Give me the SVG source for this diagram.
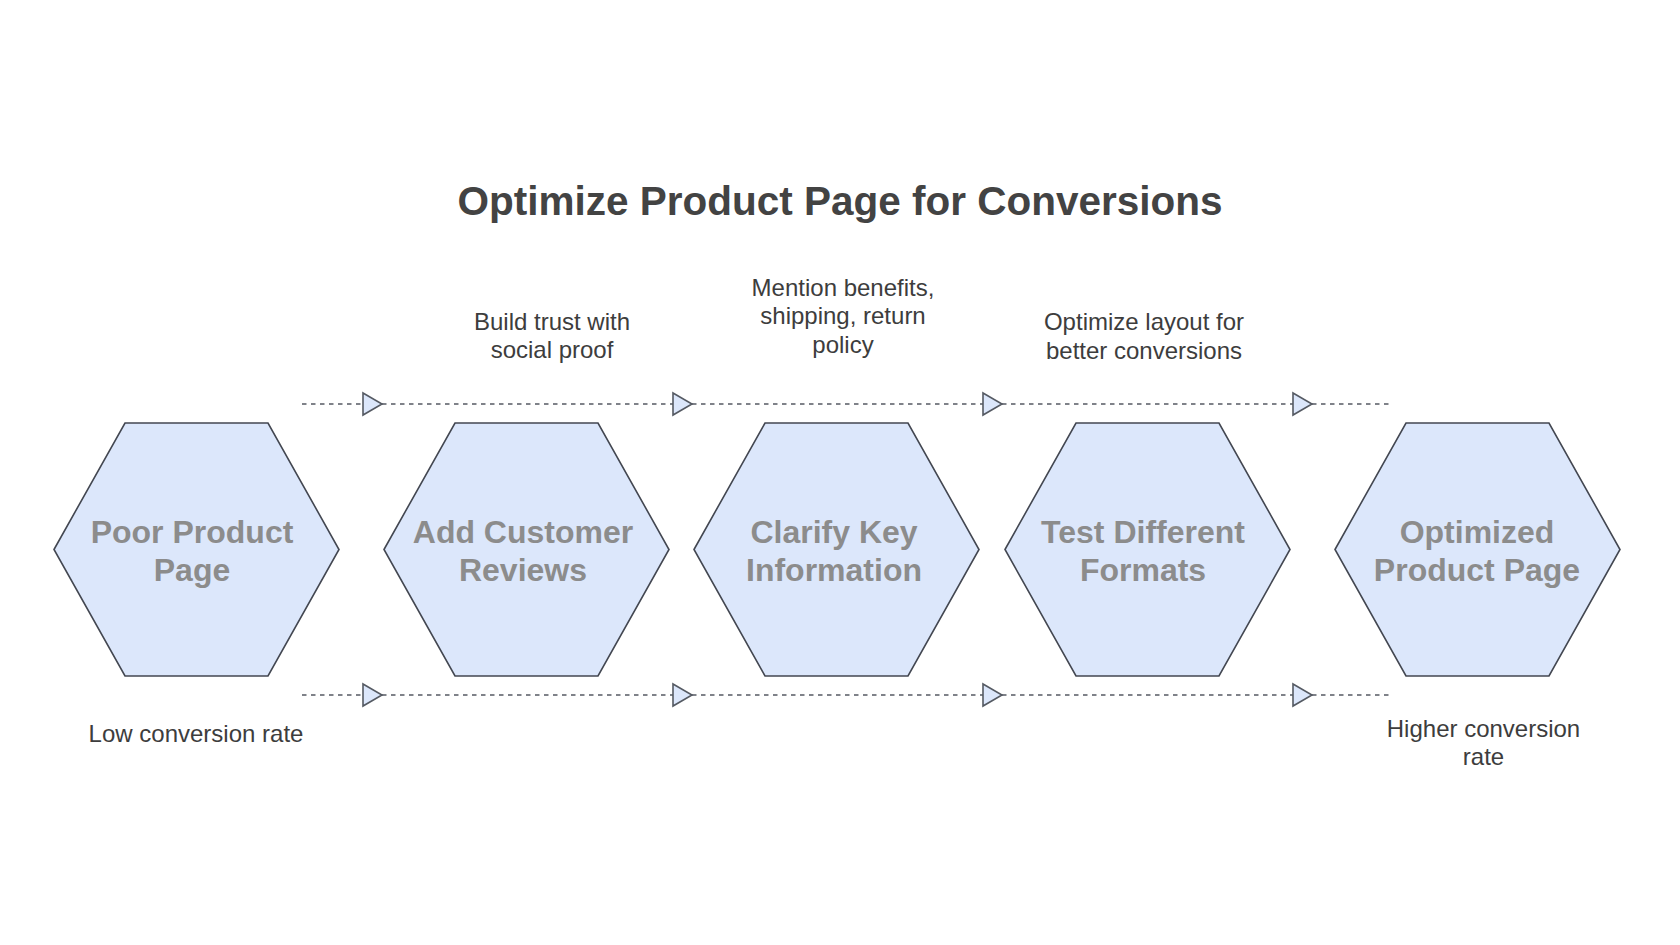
<svg xmlns="http://www.w3.org/2000/svg" width="1680" height="945" viewBox="0 0 1680 945">
<style>
.hex{fill:#dce7fb;stroke:#434751;stroke-width:1.6;}
.nl{font-family:"Liberation Sans",Arial,sans-serif;font-weight:bold;font-size:32px;fill:#8c8c8c;text-anchor:middle;}
.an{font-family:"Liberation Sans",Arial,sans-serif;font-size:24px;fill:#3d3d3d;text-anchor:middle;}
.title{font-family:"Liberation Sans",Arial,sans-serif;font-weight:bold;font-size:40.5px;fill:#434343;text-anchor:middle;}
.dl{fill:none;stroke:#555a63;stroke-width:1.6;stroke-dasharray:4.5 4.5;}
</style>
<defs>
<marker id="tri" markerUnits="userSpaceOnUse" viewBox="-2 -2 23 26" markerWidth="23" markerHeight="26" refX="19" refY="11" orient="auto" overflow="visible">
<path d="M0,0 L19,11 L0,22 Z" fill="#dce7fb" stroke="#555a63" stroke-width="1.6" stroke-linejoin="miter"/>
</marker>
</defs>
<rect width="1680" height="945" fill="#ffffff"/>
<text class="title" x="840" y="215">Optimize Product Page for Conversions</text>

<g id="connectors">
<path class="dl" d="M302,404 H382" marker-end="url(#tri)"/>
<path class="dl" d="M382,404 H692" marker-end="url(#tri)"/>
<path class="dl" d="M692,404 H1002" marker-end="url(#tri)"/>
<path class="dl" d="M1002,404 H1312" marker-end="url(#tri)"/>
<path class="dl" d="M1312,404 H1391"/>
<path class="dl" d="M302,695 H382" marker-end="url(#tri)"/>
<path class="dl" d="M382,695 H692" marker-end="url(#tri)"/>
<path class="dl" d="M692,695 H1002" marker-end="url(#tri)"/>
<path class="dl" d="M1002,695 H1312" marker-end="url(#tri)"/>
<path class="dl" d="M1312,695 H1391"/>
</g>

<g id="node-poor">
<polygon class="hex" points="54,549.5 125,423 268,423 339,549.5 268,676 125,676"/>
<text class="nl" x="192" y="543">Poor Product</text>
<text class="nl" x="192" y="581">Page</text>
</g>
<g id="node-reviews">
<polygon class="hex" points="384,549.5 455,423 598,423 669,549.5 598,676 455,676"/>
<text class="nl" x="523" y="543">Add Customer</text>
<text class="nl" x="523" y="581">Reviews</text>
</g>
<g id="node-clarify">
<polygon class="hex" points="694,549.5 765,423 908,423 979,549.5 908,676 765,676"/>
<text class="nl" x="834" y="543">Clarify Key</text>
<text class="nl" x="834" y="581">Information</text>
</g>
<g id="node-test">
<polygon class="hex" points="1005,549.5 1076,423 1219,423 1290,549.5 1219,676 1076,676"/>
<text class="nl" x="1143" y="543">Test Different</text>
<text class="nl" x="1143" y="581">Formats</text>
</g>
<g id="node-optimized">
<polygon class="hex" points="1335,549.5 1406,423 1549,423 1620,549.5 1549,676 1406,676"/>
<text class="nl" x="1477" y="543">Optimized</text>
<text class="nl" x="1477" y="581">Product Page</text>
</g>

<g id="annotations">
<text class="an" x="552" y="329.5">Build trust with</text>
<text class="an" x="552" y="358">social proof</text>
<text class="an" x="843" y="295.5">Mention benefits,</text>
<text class="an" x="843" y="324">shipping, return</text>
<text class="an" x="843" y="352.5">policy</text>
<text class="an" x="1144" y="330">Optimize layout for</text>
<text class="an" x="1144" y="358.5">better conversions</text>
<text class="an" x="196" y="741.5">Low conversion rate</text>
<text class="an" x="1483.5" y="736.5">Higher conversion</text>
<text class="an" x="1483.5" y="764.5">rate</text>
</g>
</svg>
